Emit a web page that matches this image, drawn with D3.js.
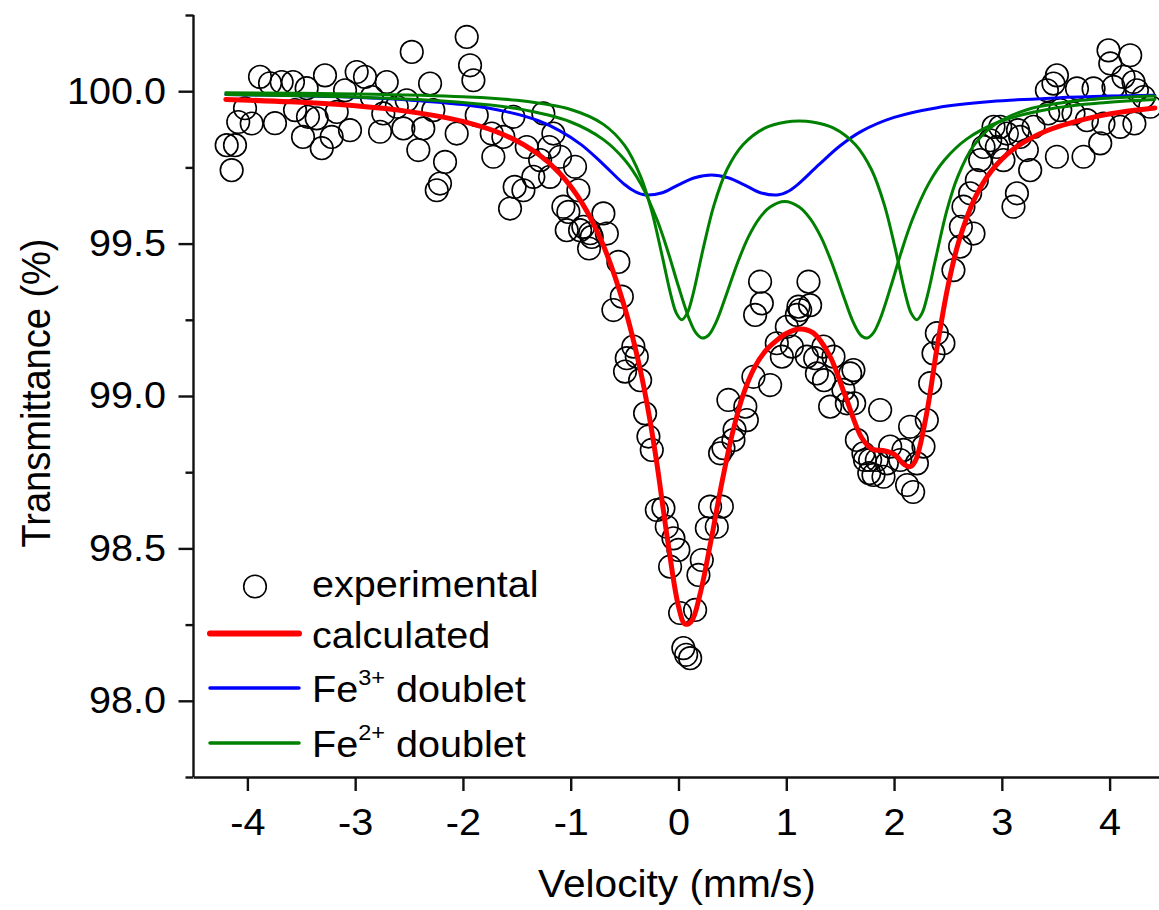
<!DOCTYPE html>
<html><head><meta charset="utf-8">
<script src="https://cdn.jsdelivr.net/npm/d3@7"></script>
<style>html,body{margin:0;padding:0;background:#fff;overflow:hidden}</style>
</head><body><svg id="c" width="1159" height="910"></svg>
<script>
// ---- data ----
const expX = [-4.192,-4.146,-4.115,-4.085,-4.022,-3.960,-3.883,-3.790,-3.744,-3.682,-3.577,-3.558,-3.484,-3.450,-3.438,-3.357,-3.310,-3.280,-3.218,-3.171,-3.094,-3.048,-2.986,-2.909,-2.846,-2.769,-2.739,-2.707,-2.614,-2.553,-2.522,-2.475,-2.414,-2.368,-2.305,-2.275,-2.243,-2.213,-2.166,-2.058,-1.965,-1.934,-1.903,-1.872,-1.733,-1.718,-1.625,-1.563,-1.532,-1.52,-1.439,-1.408,-1.347,-1.284,-1.254,-1.192,-1.20,-1.161,-1.099,-1.068,-1.037,-1.022,-0.960,-0.929,-0.913,-0.883,-0.820,-0.83,-0.805,-0.697,-0.665,-0.558,-0.526,-0.604,-0.496,-0.480,-0.419,-0.387,-0.356,-0.310,-0.279,-0.248,-0.201,-0.140,-0.109,-0.078,-0.047,-0.001,0.015,0.045,0.071,0.108,0.154,0.185,0.216,0.263,0.293,0.355,0.386,0.402,0.417,0.463,0.510,0.52,0.634,0.62,0.695,0.711,0.757,0.773,0.850,0.912,0.959,1.005,1.052,1.098,1.113,1.129,1.191,1.206,1.221,1.268,1.284,1.345,1.35,1.407,1.438,1.530,1.562,1.593,1.623,1.63,1.655,1.716,1.73,1.778,1.77,1.809,1.840,1.871,1.902,1.933,1.964,2.057,2.087,2.121,2.149,2.177,2.212,2.273,2.304,2.335,2.366,2.397,2.458,2.551,2.613,2.62,2.644,2.706,2.737,2.768,2.799,2.830,2.892,2.923,2.954,2.985,3.015,3.047,3.108,3.140,3.15,3.170,3.232,3.263,3.294,3.418,3.43,3.479,3.511,3.511,3.542,3.665,3.697,3.758,3.789,3.851,3.913,3.943,3.990,4.006,4.036,4.098,4.129,4.191,4.222,4.23,4.253,4.315,4.377];
const expY = [99.823,99.741,99.823,99.899,99.944,99.894,100.047,100.026,99.895,100.030,100.030,99.938,99.850,100.010,99.916,99.911,99.813,100.052,99.850,99.932,100.003,99.872,100.063,100.047,99.981,99.867,99.927,100.030,99.949,99.878,99.970,100.129,99.807,99.878,100.025,99.938,99.675,99.697,99.768,99.861,100.178,100.085,100.036,99.921,99.861,99.785,99.850,99.615,99.916,99.686,99.675,99.817,99.719,99.774,99.927,99.719,99.817,99.861,99.785,99.621,99.544,99.604,99.752,99.675,99.544,99.555,99.534,99.484,99.522,99.599,99.533,99.440,99.326,99.282,99.080,99.124,99.162,99.129,99.052,98.943,98.867,98.823,98.626,98.632,98.571,98.440,98.533,98.495,98.288,98.173,98.151,98.140,98.298,98.413,98.462,98.566,98.637,98.571,98.812,98.637,98.829,98.987,98.856,98.889,98.921,98.965,99.063,99.266,99.375,99.304,99.036,99.173,99.129,99.227,99.162,99.266,99.293,99.282,99.129,99.375,99.298,99.124,99.074,99.162,99.052,98.965,99.129,99.020,98.976,99.074,99.085,98.976,98.856,98.812,98.790,98.790,98.747,98.741,98.790,98.954,98.735,98.779,98.834,98.790,98.823,98.708,98.899,98.685,98.779,98.834,98.921,99.042,99.140,99.206,99.173,99.413,99.490,99.555,99.621,99.665,99.533,99.708,99.774,99.817,99.839,99.883,99.817,99.883,99.774,99.861,99.621,99.665,99.872,99.850,99.807,99.741,99.883,100.003,99.927,100.025,100.052,99.785,99.938,99.927,100.009,99.785,99.905,100.009,99.829,99.894,100.134,100.091,100.014,99.883,100.047,100.118,100.030,99.894,100.003,99.981,99.949];

const calcX = [-4.2,-3.6,-3.0,-2.5,-2.0,-1.6,-1.3,-1.1,-0.9,-0.7,-0.5,-0.35,-0.27,-0.2,-0.1,0,0.06,0.12,0.2,0.3,0.4,0.5,0.6,0.7,0.8,0.9,1.0,1.12,1.25,1.4,1.55,1.7,1.8,1.9,2.0,2.1,2.15,2.2,2.3,2.4,2.5,2.6,2.75,2.9,3.1,3.4,3.8,4.1,4.42];
const calcY = [99.973,99.965,99.952,99.933,99.901,99.854,99.793,99.730,99.636,99.496,99.291,99.078,98.931,98.777,98.525,98.310,98.252,98.261,98.350,98.523,98.711,98.877,99.004,99.090,99.145,99.179,99.205,99.220,99.207,99.134,98.998,98.863,98.825,98.821,98.809,98.774,98.768,98.789,98.938,99.161,99.360,99.506,99.649,99.737,99.808,99.868,99.911,99.931,99.945];

const fe3X = [-4.2,-3.6,-3.0,-2.5,-2.0,-1.6,-1.3,-1.1,-0.9,-0.7,-0.5,-0.4,-0.32,-0.15,0,0.15,0.305,0.46,0.61,0.76,0.93,1.01,1.1,1.3,1.5,1.7,2.0,2.4,2.9,3.5,4.0,4.42];
const fe3Y = [99.989,99.986,99.980,99.971,99.956,99.933,99.903,99.870,99.824,99.761,99.694,99.670,99.660,99.667,99.693,99.716,99.725,99.716,99.693,99.667,99.660,99.670,99.692,99.758,99.821,99.869,99.914,99.946,99.966,99.978,99.984,99.987];

const fe2aX = [-4.2,-3.0,-2.0,-1.5,-1.0,-0.7,-0.5,-0.35,-0.25,-0.15,-0.07,-0.02,0.03,0.08,0.13,0.23,0.33,0.45,0.6,0.8,1.0,1.12,1.24,1.44,1.64,1.79,1.91,2.01,2.11,2.16,2.21,2.26,2.31,2.39,2.49,2.59,2.74,2.94,3.24,3.74,4.24,4.42];
const fe2aY = [99.995,99.991,99.982,99.970,99.940,99.892,99.822,99.719,99.609,99.457,99.330,99.272,99.250,99.271,99.327,99.485,99.627,99.743,99.825,99.879,99.899,99.902,99.899,99.879,99.825,99.743,99.627,99.485,99.327,99.271,99.250,99.272,99.330,99.457,99.609,99.719,99.822,99.892,99.940,99.970,99.982,99.984];

const fe2bX = [-4.2,-3.0,-2.0,-1.5,-1.0,-0.7,-0.5,-0.35,-0.2,-0.1,0.0,0.1,0.16,0.22,0.28,0.35,0.45,0.55,0.65,0.75,0.85,0.985,1.12,1.22,1.32,1.42,1.52,1.62,1.69,1.75,1.81,1.87,1.97,2.07,2.17,2.32,2.47,2.67,2.97,3.47,3.97,4.42];
const fe2bY = [99.989,99.981,99.963,99.943,99.899,99.842,99.775,99.696,99.579,99.476,99.359,99.252,99.208,99.190,99.200,99.243,99.339,99.439,99.523,99.583,99.620,99.638,99.620,99.583,99.523,99.439,99.339,99.243,99.200,99.190,99.208,99.252,99.359,99.476,99.579,99.696,99.775,99.842,99.899,99.943,99.963,99.973];

const xTicks = [-4,-3,-2,-1,0,1,2,3,4];
const yTicks = [98.0,98.5,99.0,99.5,100.0];
const yMinorTicks = [97.75,98.25,98.75,99.25,99.75,100.25];
const xTitle = "Velocity (mm/s)";
const yTitle = "Transmittance (%)";
const legendLabels = ["experimental","calculated","Fe|3+| doublet","Fe|2+| doublet"];
const seriesColors = {calc:"#ff0000", fe3:"#0000ff", fe2:"#008000"};

// ---- drawing ----
const svg = d3.select("#c");
svg.append("rect").attr("width",1159).attr("height",910).attr("fill","#fff");
const FONT = "'Liberation Sans', Arial, Helvetica, sans-serif";
const SX = 1.07;

const x = d3.scaleLinear().domain([-4.5,4.5]).range([193.5,1163.5]);
const y = d3.scaleLinear().domain([97.75,100.25]).range([777,15]);

// axes
const axB = svg.append("g").attr("transform","translate(0,777)")
  .call(d3.axisBottom(x).tickValues(xTicks).tickSize(14).tickSizeOuter(0).tickFormat(d=>String(d)));
axB.selectAll("text").attr("y",58).attr("dy",0)
  .attr("transform",`scale(${SX},1)`).attr("font-size",37).attr("font-family",FONT).attr("fill","#000");

const axLm = svg.append("g").attr("transform","translate(193.5,0)")
  .call(d3.axisLeft(y).tickValues(yMinorTicks).tickSize(8).tickSizeOuter(0).tickFormat(""));
axLm.select(".domain").remove();
const axL = svg.append("g").attr("transform","translate(193.5,0)")
  .call(d3.axisLeft(y).tickValues(yTicks).tickSize(15).tickSizeOuter(0).tickFormat(d3.format(".1f")));
axL.selectAll("text").attr("x",-27.5/SX).attr("dy","0.32em")
  .attr("transform",`scale(${SX},1)`).attr("font-size",37).attr("font-family",FONT).attr("fill","#000");

svg.selectAll(".domain, .tick line").attr("stroke","#111").attr("stroke-width",2.4);
axL.select(".domain").attr("d","M0,15V777");

// experimental points
const pts = expX.map((v,i)=>({x:v,y:expY[i]}));
svg.append("g").selectAll("circle").data(pts).join("circle")
  .attr("cx",d=>x(d.x)).attr("cy",d=>y(d.y)).attr("r",11.3)
  .attr("fill","none").attr("stroke","#000").attr("stroke-width",1.6);

const line = d3.line().x(d=>x(d[0])).y(d=>y(d[1])).curve(d3.curveCatmullRom.alpha(0.5));
function drawSeries(xs, ys, color, w){
  svg.append("path").datum(xs.map((v,i)=>[v,ys[i]]))
    .attr("d",line).attr("fill","none").attr("stroke",color).attr("stroke-width",w)
    .attr("stroke-linejoin","round").attr("stroke-linecap","round");
}
drawSeries(fe3X, fe3Y, seriesColors.fe3, 3);
drawSeries(fe2aX, fe2aY, seriesColors.fe2, 3);
drawSeries(fe2bX, fe2bY, seriesColors.fe2, 3);
drawSeries(calcX, calcY, seriesColors.calc, 5);

// titles
svg.append("text").attr("transform",`translate(677,897) scale(${SX},1)`)
  .attr("text-anchor","middle").attr("font-size",38).attr("font-family",FONT).text(xTitle);
svg.append("text").attr("transform",`translate(50,393) scale(${SX},1) rotate(-90)`)
  .attr("text-anchor","middle").attr("font-size",38).attr("font-family",FONT).text(yTitle);

// legend
const lg = svg.append("g");
const rowsY = [586.5, 633.5, 688, 743];
lg.append("circle").attr("cx",255).attr("cy",rowsY[0]).attr("r",11.3)
  .attr("fill","none").attr("stroke","#000").attr("stroke-width",1.6);
const legLines = [[seriesColors.calc,6],[seriesColors.fe3,3.5],[seriesColors.fe2,3.5]];
legLines.forEach((c,i)=>{
  lg.append("line").attr("x1",210).attr("x2",299).attr("y1",rowsY[i+1]).attr("y2",rowsY[i+1])
    .attr("stroke",c[0]).attr("stroke-width",c[1]).attr("stroke-linecap","round");
});
legendLabels.forEach((lab,i)=>{
  const t = lg.append("text").attr("transform",`translate(312,${rowsY[i]+(i===0?10:14)}) scale(${SX},1)`)
    .attr("font-size",37).attr("font-family",FONT).attr("fill","#000");
  const parts = lab.split("|");
  if(parts.length===1){ t.text(lab); }
  else {
    t.append("tspan").text(parts[0]);
    t.append("tspan").attr("font-size",22).attr("dy",-17).text(parts[1]);
    t.append("tspan").attr("dy",17).text(parts[2]);
  }
});
</script>
</body></html>
